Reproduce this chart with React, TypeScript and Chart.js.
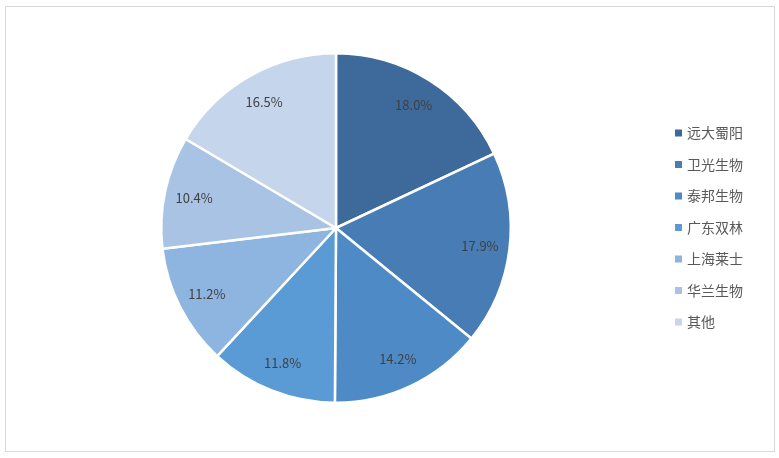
import React, { useEffect, useRef } from "react";
import { Chart, registerables } from "chart.js";

Chart.register(...registerables);

const categories = ["远大蜀阳", "卫光生物", "泰邦生物", "广东双林", "上海莱士", "华兰生物", "其他"];
const shares = [18.0, 17.9, 14.2, 11.8, 11.2, 10.4, 16.5];
const colors = ["#3d6a9a", "#477db4", "#4d8ac6", "#5b9bd5", "#8eb4e0", "#a9c3e5", "#c5d6ec"];

const FONT = '"Noto Sans CJK SC", "Noto Sans", sans-serif';

const labelPlugin = {
  id: "sliceLabels",
  afterDatasetsDraw(chart: any) {
    const ctx = chart.ctx;
    const meta = chart.getDatasetMeta(0);
    ctx.save();
    ctx.font = `13px ${FONT}`;
    ctx.fillStyle = "#404040";
    ctx.textAlign = "center";
    ctx.textBaseline = "middle";
    meta.data.forEach((arc: any, i: number) => {
      const p = arc.getProps(["x", "y", "startAngle", "endAngle", "outerRadius"], true);
      const mid = (p.startAngle + p.endAngle) / 2;
      const r = p.outerRadius * 0.83;
      const v = chart.data.datasets[0].data[i] as number;
      ctx.fillText(v.toFixed(1) + "%", p.x + Math.cos(mid) * r, p.y + Math.sin(mid) * r);
    });
    ctx.restore();
  },
};

const legendPlugin = {
  id: "sideLegend",
  afterDraw(chart: any) {
    const ctx = chart.ctx;
    const labels = chart.data.labels as string[];
    const bg = chart.data.datasets[0].backgroundColor as string[];
    ctx.save();
    ctx.font = `14px ${FONT}`;
    ctx.textBaseline = "middle";
    ctx.textAlign = "left";
    const x0 = 675;
    const y0 = 133;
    const step = 31.5;
    labels.forEach((lab, i) => {
      const y = y0 + i * step;
      ctx.fillStyle = bg[i];
      ctx.fillRect(x0, y - 3.5, 7, 7);
      ctx.fillStyle = "#595959";
      ctx.fillText(lab, x0 + 12, y);
    });
    ctx.restore();
  },
};

export default function App() {
  const ref = useRef<HTMLCanvasElement | null>(null);
  useEffect(() => {
    if (!ref.current) return;
    const chart = new Chart(ref.current, {
      type: "pie",
      data: {
        labels: categories,
        datasets: [
          {
            data: shares,
            backgroundColor: colors,
            borderColor: "#ffffff",
            borderWidth: 2.5,
          },
        ],
      },
      options: {
        responsive: false,
        animation: false,
        layout: { padding: { left: 160, right: 267, top: 52, bottom: 54 } },
        plugins: {
          legend: { display: false },
          tooltip: { enabled: false },
        },
      },
      plugins: [labelPlugin, legendPlugin],
    });
    return () => chart.destroy();
  }, []);
  return (
    <div style={{ position: "absolute", left: 0, top: 0, width: 779, height: 458, background: "#ffffff" }}>
      <div
        style={{
          position: "absolute",
          left: 5,
          top: 6,
          width: 768,
          height: 444,
          border: "1px solid #d9d9d9",
          boxSizing: "content-box",
        }}
      />
      <canvas ref={ref} width={779} height={458} style={{ position: "absolute", left: 0, top: 0 }} />
    </div>
  );
}
